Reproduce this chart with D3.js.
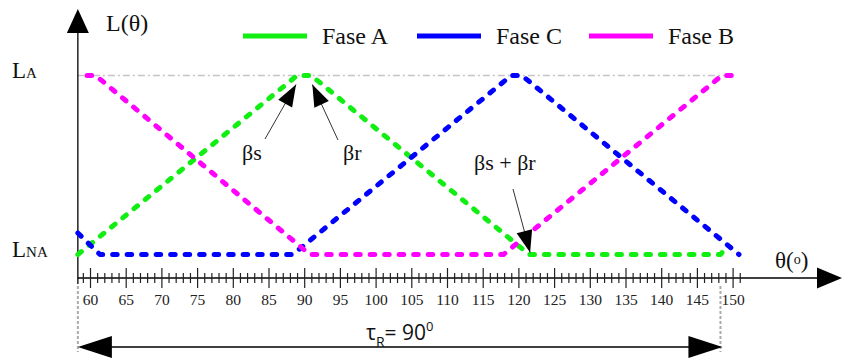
<!DOCTYPE html>
<html>
<head>
<meta charset="utf-8">
<script src="https://cdn.jsdelivr.net/npm/d3@7"></script>
<style>
  body { margin: 0; background: #fff; }
  svg { display: block; }
  .serif { font-family: "Liberation Serif", "Times New Roman", Times, "DejaVu Serif", serif; }
  .sans { font-family: "Open Sans", "Liberation Sans", sans-serif; }
</style>
</head>
<body>
<svg id="chart" width="842" height="358"></svg>
<script>
// Phase inductance profiles of the SRM over one stroke period.
// Each point: [rotor angle θ (deg), normalised inductance: 0 = L_NA, 1 = L_A]
const phaseNames  = ["Fase A", "Fase C", "Fase B"];
const phaseColors = ["#11ee11", "#0000ff", "#ff00ff"];
const faseA = [[58.3, 0], [89, 1], [91, 1], [121.5, 0], [148.3, 0], [149, 0.035]];
const faseC = [[58.3, 0.12], [61.4, 0], [88.4, 0], [119, 1], [120.5, 1], [150.9, 0]];
const faseB = [[59.6, 1], [60.8, 1], [90.8, 0], [117.9, 0], [148.5, 1], [150, 1]];
const phaseData = [faseA, faseC, faseB];

// Axis ticks: one every degree, labelled every 5 degrees
const tickValues  = d3.range(59, 152);
const labelStep   = 5;
const strokeSpan  = [58.3, 148.3];   // τR = 90°
const levelLabels = [{ main: "L", sub: "A", v: 1 }, { main: "L", sub: "NA", v: 0 }];

const svg = d3.select("#chart");
const x = d3.scaleLinear().domain([60, 150]).range([90, 732.6]);
const y = d3.scaleLinear().domain([0, 1]).range([254.5, 75.5]);
const axisY = 278, originX = x(strokeSpan[0]);

// arrowhead helper: filled triangle with tip at (tx,ty) pointing from (fx,fy)
function arrowHead(g, fx, fy, tx, ty, len, half) {
  const a = Math.atan2(ty - fy, tx - fx);
  const bx = tx - len * Math.cos(a), by = ty - len * Math.sin(a);
  const px = -Math.sin(a) * half, py = Math.cos(a) * half;
  g.append("path")
    .attr("d", `M${tx},${ty}L${bx + px},${by + py}L${bx - px},${by - py}Z`)
    .attr("fill", "#000");
}

// L_A reference (dash-dot)
svg.append("line")
  .attr("x1", originX).attr("x2", x(150))
  .attr("y1", y(1)).attr("y2", y(1))
  .attr("stroke", "#c4c4c4").attr("stroke-width", 1.3)
  .attr("stroke-dasharray", "7 3 2 3");

// vertical axis
svg.append("line").attr("x1", originX).attr("x2", originX)
  .attr("y1", 30).attr("y2", 284).attr("stroke", "#000").attr("stroke-width", 1.3);
arrowHead(svg, originX, 60, originX, 9, 24, 11);

// horizontal axis line + arrow
svg.append("line").attr("x1", originX).attr("x2", 820)
  .attr("y1", axisY).attr("y2", axisY).attr("stroke", "#000").attr("stroke-width", 1.3);
arrowHead(svg, 780, axisY, 842, axisY, 25, 10.5);

// degree ticks via d3 axis, ticks crossing the axis line
const xAxis = d3.axisBottom(x)
  .tickValues(tickValues)
  .tickSize(0)
  .tickFormat(d => d % labelStep === 0 ? d : "");
const gx = svg.append("g").attr("transform", `translate(0,${axisY})`).call(xAxis);
gx.attr("font-family", null).attr("font-size", null);
gx.select(".domain").remove();
gx.selectAll(".tick line")
  .attr("y1", d => d % labelStep === 0 ? -10 : -5)
  .attr("y2", d => d % labelStep === 0 ? 10 : 5)
  .attr("stroke", "#222").attr("stroke-width", 1.2);
gx.selectAll(".tick text")
  .attr("class", "serif")
  .attr("y", 27).attr("dy", null)
  .style("font-size", "15.5px").attr("fill", "#222");

// phase curves
const line = d3.line().x(d => x(d[0])).y(d => y(d[1]));
phaseData.forEach((pts, i) => {
  svg.append("path")
    .datum(pts)
    .attr("d", line)
    .attr("fill", "none")
    .attr("stroke", phaseColors[i])
    .attr("stroke-width", 5)
    .attr("stroke-linecap", "round")
    .attr("stroke-linejoin", "round")
    .attr("stroke-dasharray", "4.5 10");
});

// legend
const legendX = [243, 417, 589];
phaseNames.forEach((name, i) => {
  const g = svg.append("g").attr("transform", `translate(${legendX[i]},36)`);
  g.append("line").attr("x1", 0).attr("x2", 64).attr("y1", 0).attr("y2", 0)
    .attr("stroke", phaseColors[i]).attr("stroke-width", 5);
  g.append("text").attr("class", "serif").attr("x", 79).attr("y", 8)
    .style("font-size", "24px").attr("fill", "#111")
    .text(name);
});

// axis titles
svg.append("text").attr("class", "serif").attr("x", 106).attr("y", 31)
  .style("font-size", "24px").attr("fill", "#111").text("L(θ)");
const th = svg.append("text").attr("class", "serif").attr("x", 775).attr("y", 268)
  .style("font-size", "23px").attr("fill", "#111");
th.append("tspan").text("θ(");
th.append("tspan").style("font-size", "14px").attr("dy", -4).text("o");
th.append("tspan").attr("dy", 4).text(")");

// level labels
levelLabels.forEach(l => {
  const t = svg.append("text").attr("class", "serif").attr("x", 12).attr("y", y(l.v) + 2)
    .attr("fill", "#111");
  t.append("tspan").style("font-size", "23px").text(l.main);
  t.append("tspan").style("font-size", "15px").text(l.sub);
});

// annotations
const ann = svg.append("g");
function annotate(x1, y1, x2, y2) {
  ann.append("line").attr("x1", x1).attr("y1", y1).attr("x2", x2).attr("y2", y2)
    .attr("stroke", "#333").attr("stroke-width", 1);
  arrowHead(ann, x1, y1, x2, y2, 22, 8);
}
annotate(265, 139, x(89) - 1, y(1) + 9);
annotate(338, 140, x(91) + 1, y(1) + 9);
annotate(513, 189, x(121.5) + 1, y(0) - 2);
[["βs", 242, 160], ["βr", 343, 160], ["βs + βr", 474, 170]].forEach(([txt, tx, ty]) => {
  ann.append("text").attr("class", "serif").attr("x", tx).attr("y", ty)
    .style("font-size", "22px").attr("fill", "#111").text(txt);
});

// stroke span τR
[strokeSpan[0], strokeSpan[1]].forEach(v => {
  svg.append("line").attr("x1", x(v)).attr("x2", x(v)).attr("y1", 286).attr("y2", 352)
    .attr("stroke", "#aaa").attr("stroke-width", 2).attr("stroke-dasharray", "3 2");
});
const yDim = 347;
svg.append("line").attr("x1", x(strokeSpan[0]) + 30).attr("x2", x(strokeSpan[1]) - 30)
  .attr("y1", yDim).attr("y2", yDim).attr("stroke", "#000").attr("stroke-width", 1.5);
arrowHead(svg, 300, yDim, x(strokeSpan[0]), yDim, 34, 11);
arrowHead(svg, 300, yDim, x(strokeSpan[1]) + 2, yDim, 34, 11);
const tau = svg.append("text").attr("class", "sans").attr("x", 366).attr("y", 340)
  .style("font-size", "21px").attr("fill", "#111");
tau.append("tspan").text("τ");
tau.append("tspan").style("font-size", "14px").attr("dy", 7).text("R");
tau.append("tspan").attr("dy", -7).text("= 90");
tau.append("tspan").style("font-size", "13px").attr("dy", -9).text("0");
</script>
</body>
</html>
